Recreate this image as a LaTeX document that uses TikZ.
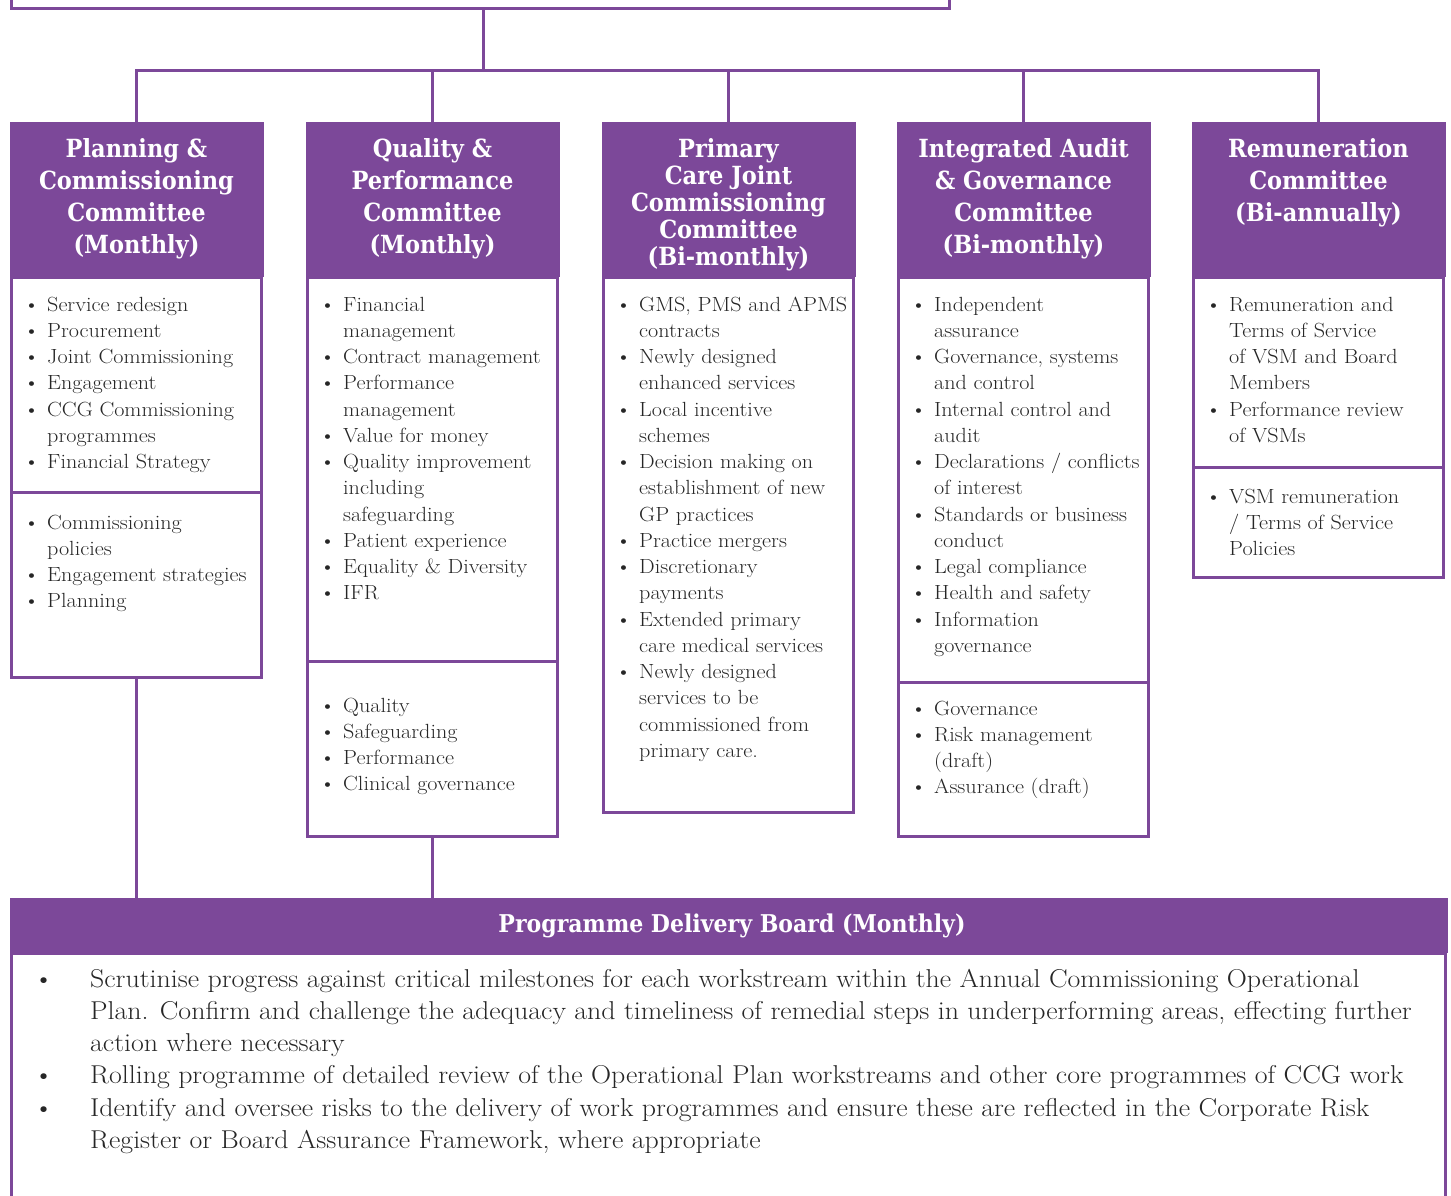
\documentclass[tikz,border=0pt]{standalone}
\usepackage{fontspec}
\setmainfont{Latin Modern Roman}[FakeStretch=1.08]
\newfontfamily\headfont{DejaVu Serif Condensed}
\definecolor{ccgpurple}{RGB}{124,72,153}
\definecolor{listgrey}{RGB}{38,38,38}

% bullet lists are two-column tabulars, first column holds the bullet
\newlength{\bulw}
\newcommand{\bt}{\makebox[\bulw][l]{\hspace{-3.5pt}\textbullet}}
\newcommand{\blist}[1]{\begin{tabular}[t]{@{}l@{}l@{}}#1\end{tabular}}
\newcommand{\htitle}[1]{\begin{tabular}[t]{@{}c@{}}#1\end{tabular}}

\begin{document}
\begin{tikzpicture}[x=1pt,y=-1pt,
  link/.style={draw=ccgpurple,line width=3pt},
  part/.style={draw=ccgpurple,line width=3pt,rectangle,inner sep=0,outer sep=0,minimum width=250pt,anchor=north west},
  head/.style={fill=ccgpurple,rectangle,inner sep=0,outer sep=0,minimum width=254pt,minimum height=155pt,anchor=north west},
  title/.style={text=white,inner sep=0,anchor=north,font=\headfont\bfseries\fontsize{25}{32}\selectfont},
  items/.style={text=listgrey,inner sep=0,anchor=north west,font=\fontsize{20.5}{26.25}\selectfont\setlength{\bulw}{20pt}}]
\useasboundingbox (0,0) rectangle (1451,1195);
\clip (0,0) rectangle (1451,1195);

% governing body (only its lower edge shows) and the committee boxes
\node[part,minimum width=937.5pt,minimum height=48pt] (gb) at (11.5,-40) {};
\node[part,minimum height=215pt] (pc-a) at (11.5,277) {};
\node[part,minimum height=185pt] (pc-b) at (11.5,492) {};
\node[part,minimum height=384pt] (qp-a) at (307.5,277) {};
\node[part,minimum height=175pt] (qp-b) at (307.5,661) {};
\node[part,minimum height=535pt] (pccc-a) at (603.5,277) {};
\node[part,minimum height=405pt] (iag-a) at (898.5,277) {};
\node[part,minimum height=154pt] (iag-b) at (898.5,682) {};
\node[part,minimum height=190pt] (rc-a) at (1193.5,277) {};
\node[part,minimum height=110pt] (rc-b) at (1193.5,467) {};
\node[part,minimum width=1434pt,minimum height=262pt] (pdb-body) at (11.5,953) {};

% tree of connectors
\coordinate (bar) at (0,70);
\draw[link] ([xshift=3pt]gb.south) -- ([xshift=3pt]gb.south |- bar);
\node[head] (pc-head) at (9.5,122) {};
\node[head] (qp-head) at (305.5,122) {};
\node[head] (pccc-head) at (601.5,122) {};
\node[head] (iag-head) at (896.5,122) {};
\node[head] (rc-head) at (1191.5,122) {};
\node[head,minimum width=1438pt,minimum height=55pt] (pdb-head) at (10,898) {};
\draw[link] (pc-head.north) -- (pc-head.north |- bar) -- (rc-head.north |- bar) -- (rc-head.north);
\foreach \c in {qp,pccc,iag} \draw[link] (\c-head.north) -- (\c-head.north |- bar);
\draw[link] (pc-b.south) -- (pc-b.south |- pdb-head.north);
\draw[link] (qp-b.south) -- (qp-b.south |- pdb-head.north);

% committee titles
\node[title] (pc-title) at (pc-head.north |- 0,134.6) {\htitle{Planning \&\\Commissioning\\Committee\\(Monthly)}};
\node[title] (qp-title) at (qp-head.north |- 0,134.6) {\htitle{Quality \&\\Performance\\Committee\\(Monthly)}};
\node[title,font=\headfont\bfseries\fontsize{25}{26.75}\selectfont] (pccc-title) at (pccc-head.north |- 0,138.3) {\htitle{Primary\\Care Joint\\Commissioning\\Committee\\(Bi-monthly)}};
\node[title] (iag-title) at (iag-head.north |- 0,134.6) {\htitle{Integrated Audit\\\& Governance\\Committee\\(Bi-monthly)}};
\node[title] (rc-title) at (rc-head.north |- 0,134.6) {\htitle{Remuneration\\Committee\\(Bi-annually)}};
\node[title,anchor=center,font=\headfont\bfseries\fontsize{24.5}{28}\selectfont] (pdb-title) at ([xshift=3pt]pdb-head.center) {Programme Delivery Board (Monthly)};

% remits
\node[items] (pc-list-a) at (27,292.6) {\blist{
\bt & Service redesign\\
\bt & Procurement\\
\bt & Joint Commissioning\\
\bt & Engagement\\
\bt & CCG Commissioning\\
    & programmes\\
\bt & Financial Strategy}};
\node[items] (pc-list-b) at (27,510.6) {\blist{
\bt & Commissioning\\
    & policies\\
\bt & Engagement strategies\\
\bt & Planning}};
\node[items] (qp-list-a) at (323,292.6) {\blist{
\bt & Financial\\
    & management\\
\bt & Contract management\\
\bt & Performance\\
    & management\\
\bt & Value for money\\
\bt & Quality improvement\\
    & including\\
    & safeguarding\\
\bt & Patient experience\\
\bt & Equality \& Diversity\\
\bt & IFR}};
\node[items] (qp-list-b) at (323,693.6) {\blist{
\bt & Quality\\
\bt & Safeguarding\\
\bt & Performance\\
\bt & Clinical governance}};
\node[items] (pccc-list) at (619,292.6) {\blist{
\bt & GMS, PMS and APMS\\
    & contracts\\
\bt & Newly designed\\
    & enhanced services\\
\bt & Local incentive\\
    & schemes\\
\bt & Decision making on\\
    & establishment of new\\
    & GP practices\\
\bt & Practice mergers\\
\bt & Discretionary\\
    & payments\\
\bt & Extended primary\\
    & care medical services\\
\bt & Newly designed\\
    & services to be\\
    & commissioned from\\
    & primary care.}};
\node[items] (iag-list-a) at (914,292.6) {\blist{
\bt & Independent\\
    & assurance\\
\bt & Governance, systems\\
    & and control\\
\bt & Internal control and\\
    & audit\\
\bt & Declarations / conflicts\\
    & of interest\\
\bt & Standards or business\\
    & conduct\\
\bt & Legal compliance\\
\bt & Health and safety\\
\bt & Information\\
    & governance}};
\node[items] (iag-list-b) at (914,696.6) {\blist{
\bt & Governance\\
\bt & Risk management\\
    & (draft)\\
\bt & Assurance (draft)}};
\node[items] (rc-list-a) at (1209,292.6) {\blist{
\bt & Remuneration and\\
    & Terms of Service\\
    & of VSM and Board\\
    & Members\\
\bt & Performance review\\
    & of VSMs}};
\node[items] (rc-list-b) at (1209,484.6) {\blist{
\bt & VSM remuneration\\
    & / Terms of Service\\
    & Policies}};
\node[items,font=\fontsize{25.8}{32.2}\selectfont\setlength{\bulw}{53pt}] (pdb-list) at (37,964.5) {\blist{
\bt & Scrutinise progress against critical milestones for each workstream within the Annual Commissioning Operational\\
    & Plan. Confirm and challenge the adequacy and timeliness of remedial steps in underperforming areas, effecting further\\
    & action where necessary\\
\bt & Rolling programme of detailed review of the Operational Plan workstreams and other core programmes of CCG work\\
\bt & Identify and oversee risks to the delivery of work programmes and ensure these are reflected in the Corporate Risk\\
    & Register or Board Assurance Framework, where appropriate}};
\end{tikzpicture}
\end{document}
